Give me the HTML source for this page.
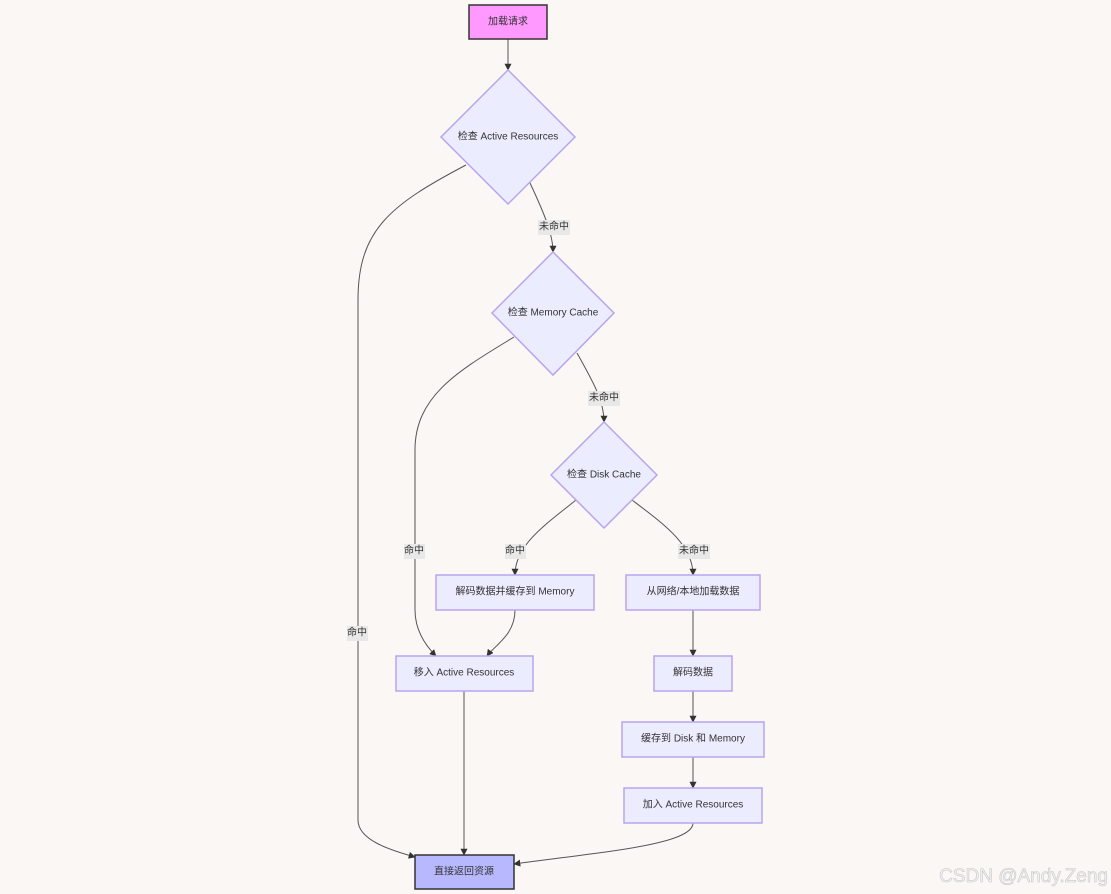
<!DOCTYPE html>
<html><head><meta charset="utf-8"><style>
html,body{margin:0;padding:0;background:#faf7f5;}
svg{display:block;font-family:"Liberation Sans","Noto Sans CJK SC",sans-serif;}
.n{fill:#ececff;stroke:#b9a4f0;stroke-width:1.5}
.e{fill:none;stroke:#555;stroke-width:1}
.t{font-size:10px;fill:#333;text-anchor:middle;dominant-baseline:central}
.lb{fill:#e8e8e8}
</style></head><body>
<svg width="1111" height="894" viewBox="0 0 1111 894">
<defs><marker id="a" viewBox="0 0 10 10" refX="9" refY="5" markerWidth="7" markerHeight="7" orient="auto"><path d="M0,0L10,5L0,10z" fill="#333"/></marker></defs>
<!-- edges -->
<path class="e" marker-end="url(#a)" d="M508,39 L508,70"/>
<path class="e" marker-end="url(#a)" d="M466,165 C390,205 358,230 358,300 L358,820 C358,840 390,850 415,857"/>
<path class="e" marker-end="url(#a)" d="M530,183 C545,215 553,235 553,252"/>
<path class="e" marker-end="url(#a)" d="M514,337 C460,370 415,395 415,450 L415,610 C415,630 425,645 436,656"/>
<path class="e" marker-end="url(#a)" d="M577,353 C592,380 604,400 604,422"/>
<path class="e" marker-end="url(#a)" d="M576,500 C545,525 515,545 515,575"/>
<path class="e" marker-end="url(#a)" d="M632,500 C665,525 693,545 693,575"/>
<path class="e" marker-end="url(#a)" d="M515,610 C515,635 495,645 487,656"/>
<path class="e" marker-end="url(#a)" d="M464,691 L464,855"/>
<path class="e" marker-end="url(#a)" d="M693,610 L693,656"/>
<path class="e" marker-end="url(#a)" d="M693,691 L693,722"/>
<path class="e" marker-end="url(#a)" d="M693,757 L693,788"/>
<path class="e" marker-end="url(#a)" d="M693,823 C693,845 600,852 514,864"/>
<!-- labels -->
<rect class="lb" x="538" y="220" width="32" height="15"/><text class="t" x="554" y="227">未命中</text>
<rect class="lb" x="588" y="391" width="32" height="15"/><text class="t" x="604" y="398">未命中</text>
<rect class="lb" x="404" y="544" width="21" height="15"/><text class="t" x="414" y="551">命中</text>
<rect class="lb" x="505" y="544" width="21" height="15"/><text class="t" x="515" y="551">命中</text>
<rect class="lb" x="678" y="544" width="32" height="15"/><text class="t" x="694" y="551">未命中</text>
<rect class="lb" x="347" y="626" width="21" height="15"/><text class="t" x="357" y="633">命中</text>
<!-- nodes -->
<rect x="469" y="5" width="78" height="34" fill="#ff99ff" stroke="#333" stroke-width="1.5"/><text class="t" x="508" y="22">加载请求</text>
<polygon class="n" points="508,70 575,137 508,204 441,137"/><text class="t" x="508" y="137">检查 Active Resources</text>
<polygon class="n" points="553,252 614,313 553,375 492,313"/><text class="t" x="553" y="313">检查 Memory Cache</text>
<polygon class="n" points="604,422 657,475 604,528 551,475"/><text class="t" x="604" y="475">检查 Disk Cache</text>
<rect class="n" x="436" y="575" width="158" height="35"/><text class="t" x="515" y="592">解码数据并缓存到 Memory</text>
<rect class="n" x="626" y="575" width="134" height="35"/><text class="t" x="693" y="592">从网络/本地加载数据</text>
<rect class="n" x="396" y="656" width="137" height="35"/><text class="t" x="464" y="673">移入 Active Resources</text>
<rect class="n" x="654" y="656" width="78" height="35"/><text class="t" x="693" y="673">解码数据</text>
<rect class="n" x="622" y="722" width="142" height="35"/><text class="t" x="693" y="739">缓存到 Disk 和 Memory</text>
<rect class="n" x="624" y="788" width="138" height="35"/><text class="t" x="693" y="805">加入 Active Resources</text>
<rect x="415" y="855" width="99" height="34" fill="#b8b8ff" stroke="#333" stroke-width="1.5"/><text class="t" x="464" y="872">直接返回资源</text>
<text x="1108" y="882" text-anchor="end" font-size="19" fill="#f3f3f3" stroke="#c8c8c8" stroke-width="0.6">CSDN @Andy.Zeng</text>
</svg>
</body></html>
